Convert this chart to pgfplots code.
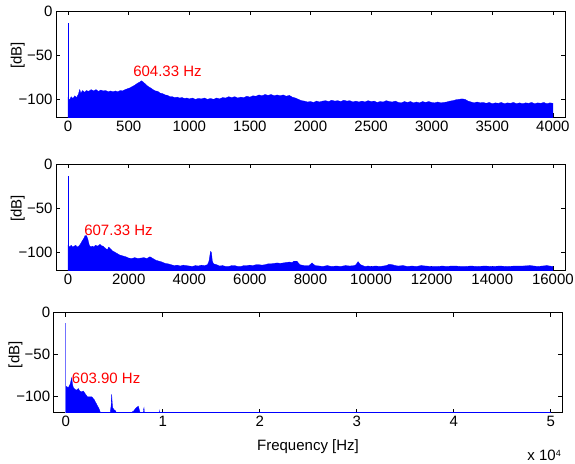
\documentclass[border=0pt]{standalone}
\usepackage{pgfplots}
\pgfplotsset{compat=1.18}
\usepackage{fontspec}
\setmainfont{Liberation Sans}
\begin{document}
\begin{tikzpicture}
\useasboundingbox (0pt,0pt) rectangle (575pt,-463pt);
\pgfplotsset{
  specax/.style={
    scale only axis, anchor=north west,
    scaled x ticks=false, scaled y ticks=false,
    ymin=-120, ymax=0, ytick={-100,-50,0}, yticklabels={−100,−50,0},
    tick align=inside, xtick pos=both, ytick pos=both,
    major tick length=4pt,
    axis line style={line width=0.9pt},
    every tick/.style={black, line width=0.6pt},
    tick label style={font=\fontsize{15}{17}\selectfont},
    label style={font=\fontsize{15}{17}\selectfont},
    ylabel={[dB]},
    ylabel style={at={(axis description cs:-0.075,0.58)}, anchor=center},
  },
}
\tikzset{redlab/.style={red, anchor=west, inner sep=0pt, font=\fontsize{15}{17}\selectfont}}
% ---------------- Panel 1 ----------------
\begin{axis}[specax, at={(56pt,-11pt)}, width=509pt, height=106pt,
  xmin=-100, xmax=4100, xtick={0,500,...,4000},
  xticklabels={0,500,1000,1500,2000,2500,3000,3500,4000}]
\addplot[fill=blue, draw=blue, line width=0.3pt] coordinates {
(0,-125)(0,-98)(12,-101)(25,-97)(40,-99)(55,-96)(70,-98)(85,-94)(96,-89)(105,-93)(120,-90)
(135,-92)(150,-90)(170,-91)(190,-89)(210,-90.5)(230,-89)(250,-91)(270,-89.5)(290,-90.5)
(310,-90)(330,-91.5)(350,-90.5)(370,-91.5)(390,-90.5)(410,-91.5)(430,-90)(450,-90.5)
(470,-89)(490,-88)(510,-87)(530,-85.5)(550,-84)(570,-82)(590,-80.5)(605,-79)(620,-80.5)
(640,-83)(660,-85.5)(680,-87)(700,-89)(720,-90.5)(740,-91)(760,-93)(780,-93.5)(800,-95)
(820,-95.5)(840,-97)(860,-97)(880,-98)(900,-97.5)(920,-98.5)(940,-98)(960,-99)(980,-98.5)
(1000,-99.5)(1025,-98.5)(1050,-100)(1075,-99)(1100,-99.5)(1125,-98.5)(1150,-100)(1175,-99)
(1200,-100)(1225,-98.5)(1250,-99.5)(1275,-98)(1300,-98.5)(1325,-97)(1350,-98)(1375,-97)
(1400,-98.5)(1425,-97.5)(1450,-98)(1475,-96.5)(1500,-97.5)(1525,-96)(1550,-96.5)(1575,-95)
(1600,-96)(1625,-94.5)(1650,-95.5)(1675,-94.5)(1700,-96)(1725,-95)(1750,-96)(1775,-95)
(1800,-96.5)(1825,-95.5)(1850,-97.5)(1875,-98.5)(1900,-100)(1925,-101.5)(1950,-102)
(1975,-103)(2000,-102.5)(2025,-103.5)(2050,-102)(2075,-103)(2100,-102)(2125,-101.5)
(2150,-102.5)(2175,-101)(2200,-102)(2225,-101.5)(2250,-102.5)(2275,-101)(2300,-102)
(2325,-101.5)(2350,-103)(2375,-102)(2400,-103)(2425,-102)(2450,-103)(2475,-101.5)
(2500,-102.5)(2525,-102)(2550,-103.5)(2575,-102.5)(2600,-103)(2625,-101.5)(2650,-102.5)
(2675,-103)(2700,-102)(2725,-103.5)(2750,-104)(2775,-102.5)(2800,-103.5)(2825,-102.5)
(2850,-104)(2875,-103)(2900,-104)(2925,-102.5)(2950,-103.5)(2975,-102.5)(3000,-103.5)
(3025,-104)(3050,-103)(3075,-104)(3100,-103.5)(3125,-103)(3150,-102)(3175,-101.5)
(3200,-100.5)(3225,-100)(3250,-99.5)(3275,-100)(3300,-102)(3325,-103)(3350,-104)
(3375,-103)(3400,-104)(3425,-103.5)(3450,-104.5)(3475,-103.5)(3500,-105)(3525,-104)
(3550,-104.5)(3575,-103.5)(3600,-105)(3625,-104)(3650,-104.5)(3675,-103.5)(3700,-105)
(3725,-104)(3750,-105)(3775,-104)(3800,-104.5)(3825,-103.5)(3850,-105)(3875,-104)
(3900,-104.5)(3925,-103.5)(3950,-105)(3975,-104)(4000,-104.5)(4000,-125)};
\addplot[blue, line width=0.6pt] coordinates {(0,-120)(0,-13.5)};
\node[redlab] at (axis cs:536,-68) {604.33 Hz};
\end{axis}
% ---------------- Panel 2 ----------------
\begin{axis}[specax, at={(56pt,-164pt)}, width=509pt, height=106pt,
  xmin=-400, xmax=16400, xtick={0,2000,...,16000},
  xticklabels={0,2000,4000,6000,8000,10000,12000,14000,16000}]
\addplot[fill=blue, draw=blue, line width=0.3pt] coordinates {
(0,-125)(0,-92)(50,-94)(100,-92)(150,-94)(200,-93)(250,-92)(300,-94)(350,-93)(400,-91)
(450,-88)(520,-84)(560,-81)(607,-81)(650,-85)(700,-92)(750,-94)(800,-93)(850,-94)(900,-92)
(975,-93)(1050,-91)(1100,-92.5)(1150,-93)(1200,-94.5)(1250,-96)(1300,-97)(1340,-94)
(1400,-96)(1450,-98)(1500,-99)(1600,-101)(1700,-103)(1800,-104)(1900,-105)(2000,-106.5)
(2100,-107)(2200,-106)(2300,-107)(2400,-106.5)(2500,-106)(2600,-107)(2700,-105)
(2800,-107)(2900,-109)(3000,-110)(3100,-111)(3200,-112.5)(3300,-113)(3400,-114)
(3500,-115)(3600,-114.5)(3700,-115.5)(3800,-114.5)(3900,-115)(4000,-115.5)(4100,-116)
(4200,-115)(4300,-115.5)(4400,-114.5)(4500,-115)(4600,-114)(4650,-110)(4700,-99)(4730,-100)
(4760,-110)(4800,-113)(4900,-114)(5000,-115.5)(5100,-115)(5200,-116)(5300,-116)(5400,-115)
(5500,-115)(5600,-116)(5700,-116)(5800,-115)(5900,-115)(6000,-114.5)(6100,-115)(6200,-114)
(6300,-114)(6400,-114.5)(6500,-114)(6600,-113)(6700,-113)(6800,-112.5)(6900,-112)
(7000,-112.5)(7100,-112)(7200,-111.5)(7300,-111)(7400,-111.5)(7450,-110)(7550,-110)
(7650,-114)(7800,-115)(7950,-115)(8050,-112)(8150,-115)(8300,-115.5)(8400,-116)(8550,-115)
(8700,-116)(8850,-115.5)(9000,-116)(9150,-115)(9300,-115.5)(9450,-115)(9500,-114)
(9570,-110.5)(9650,-114)(9800,-116)(9900,-115.5)(10000,-116)(10150,-115.5)(10300,-116)
(10400,-115.5)(10500,-115)(10600,-113.5)(10700,-114)(10800,-115)(10900,-115.5)(11050,-115)
(11200,-116)(11350,-115.5)(11500,-116)(11650,-115)(11800,-115.5)(12000,-116)(12200,-116)
(12350,-115.5)(12500,-116)(12650,-115.5)(12800,-115.5)(12950,-116)(13100,-116)(13300,-115.5)
(13500,-116)(13750,-115.5)(14000,-116)(14250,-115.5)(14500,-116)(14750,-115.5)(15000,-115.5)
(15250,-115)(15500,-116)(15650,-115.5)(15800,-115)(15900,-115.5)(16000,-116)(16000,-125)};
\addplot[blue, line width=0.6pt] coordinates {(0,-120)(0,-13.5)};
\node[redlab] at (axis cs:528,-75.6) {607.33 Hz};
\end{axis}
% ---------------- Panel 3 ----------------
\begin{axis}[specax, at={(53.7pt,-312.7pt)}, width=508.6pt, height=100pt,
  xmin=-1240, xmax=51200, xtick={0,10000,...,50000},
  xticklabels={0,1,2,3,4,5},
  xlabel={Frequency [Hz]},
  xlabel style={at={(axis description cs:0.5,-0.373)}, anchor=base}]
\addplot[fill=blue, draw=blue, line width=0.3pt] coordinates {
(0,-125)(0,-88)(275,-90)(447,-86)(619,-78)(700,-86)(790,-90)(962,-92)(1100,-93)
(1306,-91)(1450,-94)(1650,-95)(1822,-94)(1993,-97)(2234,-101)(2681,-101)(2921,-104)
(3196,-110)(3471,-116)(3608,-121)(3700,-125)
(4550,-125)(4600,-118)(4680,-112)(4740,-97.6)(4790,-108)(4850,-114)(4950,-116)
(5150,-118)(5250,-121)(5300,-125)
(6750,-125)(6850,-119)(7000,-118)(7200,-115)(7480,-112)(7600,-117)(7700,-121)(7750,-125)
(7980,-125)(8030,-116)(8070,-114)(8110,-121)(8150,-125)
(9580,-125)(9650,-117.5)(9720,-125)};
\addplot[blue, line width=0.9pt] coordinates {(0,-120)(50000,-120)};
\addplot[blue!55, line width=0.6pt] coordinates {(0,-120)(0,-12.7)};
\node[redlab] at (axis cs:619,-78.7) {603.90 Hz};
\end{axis}
\node[anchor=base east, inner sep=0pt, font=\fontsize{15}{17}\selectfont] at (561pt,-460pt) {x 10{\fontsize{9}{10}\selectfont\raisebox{0.75ex}{4}}};
\end{tikzpicture}
\end{document}
